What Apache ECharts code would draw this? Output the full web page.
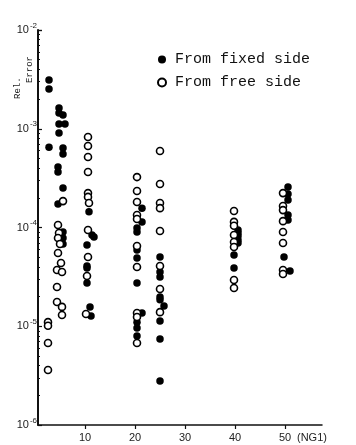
<!DOCTYPE html>
<html>
<head>
<meta charset="utf-8">
<script src="https://cdn.jsdelivr.net/npm/echarts@6/dist/echarts.min.js"></script>
<style>
html,body{margin:0;padding:0;background:#fff;}
#chart{width:356px;height:445px;}
</style>
</head>
<body>
<div id="chart"></div>
<script>
// x = NG1, y = relative error
var fixedSide = [
  [2.8,3.12e-3],[2.8,2.53e-3],[2.8,6.5e-4],
  [4.8,1.62e-3],[4.8,1.44e-3],[4.8,1.12e-3],[4.8,9.06e-4],[4.6,4.10e-4],[4.6,3.65e-4],[4.6,1.73e-4],
  [5.6,1.38e-3],[6.0,1.12e-3],[5.6,6.38e-4],[5.6,5.55e-4],[5.6,2.51e-4],[5.6,9.0e-5],[5.6,7.83e-5],[5.6,6.8e-5],
  [10.8,1.44e-4],[11.4,8.4e-5],[11.8,8.0e-5],[10.4,6.65e-5],[10.4,4.07e-5],[10.4,3.89e-5],[10.4,2.74e-5],[11.0,1.57e-5],[11.2,1.27e-5],
  [20.4,9.88e-5],[20.4,9.0e-5],[20.4,5.92e-5],[20.4,4.91e-5],[20.4,2.74e-5],[20.4,1.10e-5],[20.4,9.6e-6],[20.4,7.96e-6],
  [21.4,1.57e-4],[21.4,1.14e-4],[21.4,1.36e-5],
  [25.0,5.03e-5],[25.0,3.54e-5],[25.0,3.15e-5],[25.0,1.98e-5],[25.0,1.85e-5],[25.0,1.13e-5],[25.0,7.43e-6],[25.0,2.79e-6],[25.8,1.60e-5],
  [40.6,9.44e-5],[40.6,8.8e-5],[40.6,8.2e-5],[40.6,7.46e-5],[40.6,6.97e-5],[39.8,5.27e-5],[39.8,3.89e-5],
  [50.6,2.57e-4],[50.6,2.18e-4],[50.6,1.90e-4],[50.6,1.34e-4],[50.6,1.19e-4],[51.0,3.62e-5],[49.8,5.03e-5]
];
var freeSide = [
  [2.6,1.10e-5],[2.6,1.01e-5],[2.6,6.76e-6],[2.6,3.6e-6],
  [5.6,1.85e-4],[4.6,1.06e-4],[4.8,8.8e-5],[4.6,7.83e-5],[5.0,6.8e-5],[4.6,5.52e-5],[5.2,4.37e-5],[4.4,3.71e-5],[5.4,3.54e-5],[4.4,2.5e-5],[4.4,1.76e-5],[5.4,1.57e-5],[5.4,1.3e-5],
  [10.6,8.25e-4],[10.6,6.69e-4],[10.6,5.18e-4],[10.6,3.65e-4],[10.6,2.23e-4],[10.6,2.04e-4],[10.8,1.77e-4],[10.6,9.44e-5],[10.6,5.03e-5],[10.4,3.23e-5],[10.2,1.33e-5],
  [20.4,3.24e-4],[20.4,2.34e-4],[20.4,1.81e-4],[20.4,1.34e-4],[20.4,1.22e-4],[20.4,6.5e-5],[20.4,3.98e-5],[20.4,1.36e-5],[20.4,1.24e-5],[20.4,6.76e-6],
  [25.0,5.96e-4],[25.0,2.76e-4],[25.0,1.77e-4],[25.0,1.57e-4],[25.0,9.22e-5],[25.0,4.07e-5],[25.0,2.38e-5],[25.0,1.39e-5],
  [39.8,1.47e-4],[39.8,1.14e-4],[39.8,1.04e-4],[39.8,8.4e-5],[39.8,7.13e-5],[39.8,6.35e-5],[39.8,2.94e-5],[39.8,2.44e-5],
  [49.6,2.23e-4],[49.6,1.65e-4],[49.6,1.50e-4],[49.6,1.16e-4],[49.6,9.0e-5],[49.6,6.97e-5],[49.6,3.71e-5],[49.6,3.38e-5]
];
var xTicks = [10, 20, 30, 40, 50];
var seriesNames = ['From fixed side', 'From free side'];

var chart = echarts.init(document.getElementById('chart'), null, {renderer:'canvas'});
var option = {
  animation: false,
  backgroundColor: '#fff',
  grid: {left: 38, right: 34, top: 30, bottom: 20},
  legend: {
    orient: 'vertical', left: 152, top: 47, itemGap: 8,
    itemWidth: 16, itemHeight: 8,
    data: [{name: seriesNames[0], icon: 'circle'}, {name: seriesNames[1], icon: 'circle'}],
    textStyle: {fontFamily: 'Liberation Mono', fontSize: 15, color: '#111'}
  },
  xAxis: {
    type: 'value', min: 0.6, max: 57.4,
    axisLine: {show: true, onZero: false, lineStyle: {color: '#111', width: 1.5}},
    axisTick: {show: true, customValues: xTicks, length: 4, lineStyle: {color: '#111', width: 1.2}},
    axisLabel: {customValues: xTicks, margin: 7, fontFamily: 'Liberation Sans', fontSize: 11, color: '#222'},
    splitLine: {show: false}
  },
  yAxis: {
    type: 'log', logBase: 10, min: 1e-6, max: 1e-2,
    axisLine: {show: true, lineStyle: {color: '#111', width: 2}},
    axisTick: {show: true, inside: true, length: 4, lineStyle: {color: '#111', width: 1.2}},
    minorTick: {show: true, splitNumber: 9, length: 2, lineStyle: {color: '#111', width: 1}},
    axisLabel: {
      margin: 1,
      formatter: function (v) {
        var e = Math.round(Math.log10(v));
        return '{a|10}{b|' + e + '}';
      },
      rich: {
        a: {fontFamily: 'Liberation Sans', fontSize: 11, color: '#222'},
        b: {fontFamily: 'Liberation Sans', fontSize: 8, color: '#222', padding: [0, 0, 9, 1]}
      }
    },
    splitLine: {show: false}
  },
  graphic: [
    {type: 'text', left: 297, top: 432, style: {text: '(NG1)', fontFamily: 'Liberation Sans', fontSize: 11, fill: '#222'}},
    {type: 'text', x: 13, y: 99, rotation: Math.PI / 2, style: {text: 'Rel.', fontFamily: 'Liberation Mono', fontSize: 9, fill: '#222', verticalAlign: 'top'}},
    {type: 'text', x: 25, y: 83, rotation: Math.PI / 2, style: {text: 'Error', fontFamily: 'Liberation Mono', fontSize: 9, fill: '#222', verticalAlign: 'top'}}
  ],
  series: [
    {
      name: seriesNames[0], type: 'scatter', data: fixedSide,
      symbol: 'circle', symbolSize: 7.5,
      itemStyle: {color: '#000', opacity: 1}
    },
    {
      name: seriesNames[1], type: 'scatter', data: freeSide,
      symbol: 'circle', symbolSize: 7,
      itemStyle: {color: '#fff', borderColor: '#000', borderWidth: 1.6, opacity: 1}
    }
  ]
};
chart.setOption(option);
</script>
</body>
</html>
